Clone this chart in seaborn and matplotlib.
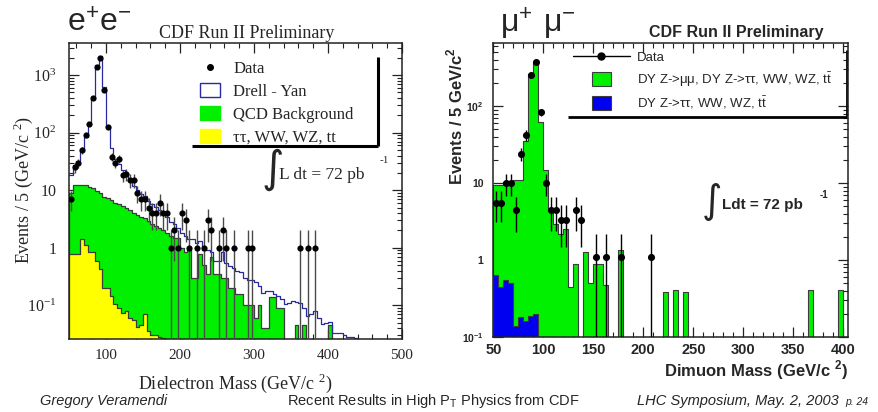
import numpy as np
import pandas as pd
import matplotlib
matplotlib.use("Agg")
import matplotlib.pyplot as plt
import seaborn as sns
from matplotlib.lines import Line2D
from matplotlib.patches import Patch, Rectangle
from matplotlib.legend_handler import HandlerPatch
from matplotlib.ticker import MultipleLocator, LogLocator, NullFormatter

# ---------------- e+e- panel : 5 GeV bins from 50 to 450 ----------------
ee_edges = np.arange(50, 455, 5)

# total prediction outline ("Drell - Yan")
ee_drell_yan = [
    18, 27, 32, 50, 85, 140, 400, 1500, 2100, 620,
    127, 53, 35, 28, 22, 18, 15, 12, 10, 8.5,
    7.8, 6.5, 5.8, 5.2, 4.5, 4.0, 3.4, 2.8, 2.6, 2.2,
    1.8, 1.6, 1.4, 1.4, 1.2, 1.3, 0.9, 0.9, 0.85, 0.6,
    0.6, 0.85, 0.55, 0.49, 0.45, 0.4, 0.38, 0.3, 0.27, 0.27,
    0.25, 0.22, 0.165, 0.18, 0.18, 0.16, 0.145, 0.13, 0.106, 0.11,
    0.12, 0.115, 0.11, 0.09, 0.066, 0.07, 0.08, 0.06, 0.048, 0.05,
    0.052, 0.033, 0.033, 0.033, 0.03, 0.028, 0.028, 0.027, 0, 0,
]
# QCD background (stacked on top of the electroweak part)
ee_qcd = [
    8, 11.5, 11.5, 11, 11, 10.5, 10, 9, 8.5, 7.5,
    7, 6.5, 6, 5.6, 5.2, 4.8, 4.4, 4.0, 3.7, 3.4,
    3.2, 2.9, 2.6, 2.4, 2.2, 2.0, 1.8, 1.6, 1.5, 1.5,
    1.0, 0.85, 0.9, 0.3, 0.3, 0.78, 0.5, 0.35, 0.7, 0.35,
    0.35, 0.3, 0.3, 0.2, 0.2, 0.16, 0.16, 0.1, 0.1, 0.1,
    0.06, 0.1, 0.04, 0.04, 0.14, 0.14, 0.09, 0.09, 0, 0,
    0, 0.045, 0, 0.045, 0, 0, 0, 0, 0, 0,
    0.045, 0, 0, 0, 0, 0, 0, 0, 0, 0,
]
# tau tau, WW, WZ, ttbar
ee_ewk = [
    0.78, 0.78, 0.78, 1.43, 1.1, 0.83, 0.83, 0.6, 0.43, 0.2,
    0.2, 0.146, 0.106, 0.09, 0.075, 0.08, 0.06, 0.055, 0.042, 0.045,
    0.07, 0.036, 0.03, 0.03, 0.028, 0.027, 0, 0, 0, 0,
] + [0] * 50

ee_data_mass = [
    52.5, 57.5, 62.5, 67.5, 72.5, 77.5, 82.5, 87.5, 92.5, 97.5,
    102.5, 107.5, 112.5, 117.5, 122.5, 127.5, 132.5, 137.5, 142.5, 147.5,
    152.5, 157.5, 162.5, 167.5, 172.5, 177.5, 182.5, 187.5, 192.5, 197.5,
    202.5, 207.5, 212.5, 222.5, 232.5, 237.5, 242.5, 252.5, 257.5, 262.5,
    272.5, 292.5, 297.5, 362.5, 372.5, 382.5,
]
ee_data_events = [
    7, 25, 30, 50, 90, 140, 400, 1400, 1950, 560,
    125, 38, 30, 35, 18, 19, 15, 15, 9, 7,
    7, 5, 4, 4, 6, 4, 4, 1, 2, 1,
    4, 3, 1, 1, 1, 3, 2, 1, 2, 1,
    1, 1, 1, 1, 1, 1,
]
ee_yticks = [0.1, 1, 10, 100, 1000]
ee_ytick_labels = [r"$\mathdefault{10^{-1}}$", "1", "10",
                   r"$\mathdefault{10^{2}}$", r"$\mathdefault{10^{3}}$"]
ee_xticks = [100, 200, 300, 400, 500]

# ---------------- mu+mu- panel : 5 GeV bins from 50 to 400 ----------------
mm_edges = np.arange(50, 405, 5)
mm_total = [
    9.5, 9.5, 10.3, 10.3, 11, 11, 35, 263, 372, 62,
    14.8, 4.4, 2.96, 2.2, 2.55, 0.45, 0.9, 0, 1.27, 0.5,
    0.9, 0.9, 0.47, 0, 0, 1.33, 0, 0, 0, 0,
    0, 0, 0, 0, 0.39, 0, 0.41, 0, 0.39, 0,
    0, 0, 0, 0, 0, 0, 0, 0, 0, 0,
    0, 0, 0, 0, 0, 0, 0, 0, 0, 0,
    0, 0, 0, 0.41, 0, 0, 0, 0, 0, 0.41,
]
mm_tautau = [0.64, 0.45, 0.55, 0.5, 0.14, 0.18, 0.16, 0.19, 0.2] + [0] * 61

mm_data_mass = [52.5, 57.5, 62.5, 67.5, 72.5, 77.5, 82.5, 87.5, 92.5, 97.5,
                102.5, 107.5, 112.5, 117.5, 122.5, 132.5, 137.5,
                152.5, 162.5, 177.5, 207.5]
mm_data_events = [5.5, 5.5, 10, 10, 4.4, 24, 42, 256, 370, 83,
                  10, 4.5, 4.5, 3.3, 3.3, 4.5, 3.3,
                  1.1, 1.1, 1.1, 1.1]
mm_yticks = [0.1, 1, 10, 100]
mm_ytick_labels = [r"$\mathdefault{10^{-1}}$", "1", "10", r"$\mathdefault{10^{2}}$"]

GREEN = "#00f000"
YELLOW = "#ffff00"
BLUE = "#0000f0"
DY_LINE = "#2a2aa0"
EDGE = "#3c3c3c"
SERIF = "Liberation Serif"
SANS = "Liberation Sans"

sns.set_style("ticks")
plt.rcParams["font.family"] = [SANS, "DejaVu Sans"]
plt.rcParams["axes.linewidth"] = 1.1
plt.rcParams["axes.edgecolor"] = "#222222"

W, H = 879, 412


def fxy(x, y):
    return x / W, 1 - y / H


def draw_hist(ax, edges, values, fill, color, **kws):
    df = pd.DataFrame({"mass": edges[:-1] + 2.5, "events": np.asarray(values, float)})
    sns.histplot(data=df, x="mass", weights="events", bins=list(edges), element="step",
                 fill=fill, color=color, ax=ax, **kws)


def small_box(legend, orig_handle, xdescent, ydescent, width, height, fontsize):
    return Rectangle((width * 0.325 - xdescent, -ydescent), width * 0.35, height)


fig = plt.figure(figsize=(W / 100, H / 100), dpi=100)
fig.patch.set_facecolor("white")
ax_ee = fig.add_axes([69 / W, 1 - 339 / H, 333 / W, 296 / H])
ax_mm = fig.add_axes([493.3 / W, 1 - 337 / H, 354.7 / W, 294 / H])

# ---------------- left panel ----------------
ee_stack = np.array(ee_qcd) + np.array(ee_ewk)
draw_hist(ax_ee, ee_edges, ee_stack, True, GREEN, alpha=1, edgecolor=EDGE, linewidth=0.9)
draw_hist(ax_ee, ee_edges, ee_ewk, True, YELLOW, alpha=1, edgecolor=EDGE, linewidth=0.9)
draw_hist(ax_ee, ee_edges, ee_drell_yan, False, DY_LINE, linewidth=0.9)

ee_err = np.sqrt(ee_data_events)
ax_ee.errorbar(ee_data_mass, ee_data_events, yerr=ee_err, xerr=2.5, fmt="none",
               ecolor="#4a4a4a", elinewidth=1.0, zorder=4)
sns.scatterplot(x=ee_data_mass, y=ee_data_events, ax=ax_ee, color="black",
                s=20, linewidth=0, zorder=5)

ax_ee.set_yscale("log")
ax_ee.set_xlim(50, 500)
ax_ee.set_ylim(0.026, 3600)
ax_ee.set_yticks(ee_yticks)
ax_ee.set_yticklabels(ee_ytick_labels, family=SERIF, fontsize=11.5)
ax_ee.yaxis.set_minor_locator(LogLocator(subs=np.arange(2, 10)))
ax_ee.yaxis.set_minor_formatter(NullFormatter())
ax_ee.set_xticks(ee_xticks)
ax_ee.set_xticklabels([str(t) for t in ee_xticks], family=SERIF, fontsize=11)
ax_ee.xaxis.set_minor_locator(MultipleLocator(20))
ax_ee.tick_params(which="both", direction="in", top=True, right=True, color="#222222")
ax_ee.tick_params(which="major", length=7, width=0.9)
ax_ee.tick_params(which="minor", length=3.5, width=0.8)
ax_ee.tick_params(axis="y", which="major", pad=9)
ax_ee.tick_params(axis="x", which="major", pad=7)

ax_ee.set_xlabel(r"Dielectron Mass (GeV/c $^{\mathdefault{2}}$)", family=SERIF,
                 fontsize=13, va="center")
ax_ee.xaxis.set_label_coords(0.5, -0.149)
ax_ee.set_ylabel(r"Events / 5 (GeV/c $^{\mathdefault{2}}$)", family=SERIF,
                 fontsize=13, va="center")
ax_ee.yaxis.set_label_coords(-0.138, 0.503)

ee_handles = [
    Line2D([], [], marker="o", ls="none", color="black", ms=4),
    Patch(facecolor="white", edgecolor=DY_LINE, linewidth=1.0),
    Patch(facecolor=GREEN, edgecolor=GREEN),
    Patch(facecolor=YELLOW, edgecolor=YELLOW),
]
ee_labels = ["Data", "Drell - Yan", "QCD Background", "ττ, WW, WZ, tt"]
ax_ee.legend(ee_handles, ee_labels, loc="upper left", bbox_to_anchor=(0.393, 0.942),
             frameon=False, borderpad=0, borderaxespad=0, handlelength=1.2,
             handleheight=0.95, handletextpad=0.8, labelspacing=0.36,
             prop={"family": SERIF, "size": 12})
ax_ee.add_line(Line2D([0.369, 0.928], [0.652, 0.652], transform=ax_ee.transAxes,
                      color="black", lw=2.2, solid_capstyle="butt"))
ax_ee.add_line(Line2D([0.928, 0.928], [0.652, 0.953], transform=ax_ee.transAxes,
                      color="black", lw=2.2, solid_capstyle="butt"))

# ---------------- right panel ----------------
draw_hist(ax_mm, mm_edges, mm_total, True, GREEN, alpha=1, edgecolor=EDGE, linewidth=0.8)
draw_hist(ax_mm, mm_edges, mm_tautau, True, BLUE, alpha=1, edgecolor=EDGE, linewidth=0.8)

mm_err = np.sqrt(mm_data_events)
ax_mm.errorbar(mm_data_mass, mm_data_events, yerr=mm_err, xerr=2.5, fmt="none",
               ecolor="black", elinewidth=1.0, zorder=4)
sns.scatterplot(x=mm_data_mass, y=mm_data_events, ax=ax_mm, color="black",
                s=26, linewidth=0, zorder=5)

ax_mm.set_yscale("log")
ax_mm.set_xlim(50, 404.7)
ax_mm.set_ylim(0.1, 660)
ax_mm.set_yticks(mm_yticks)
ax_mm.set_yticklabels(mm_ytick_labels, family=SANS, fontsize=7.5, fontweight="bold")
ax_mm.yaxis.set_minor_locator(LogLocator(subs=np.arange(2, 10)))
ax_mm.yaxis.set_minor_formatter(NullFormatter())
ax_mm.xaxis.set_major_locator(MultipleLocator(50))
ax_mm.xaxis.set_minor_locator(MultipleLocator(10))
ax_mm.tick_params(axis="x", labelsize=10.5)
ax_mm.tick_params(which="both", direction="in", top=True, right=True, color="#222222")
ax_mm.tick_params(which="major", length=7, width=0.9)
ax_mm.tick_params(which="minor", length=3.5, width=0.8)
ax_mm.tick_params(axis="y", which="major", pad=7)
ax_mm.tick_params(axis="x", which="major", pad=4)
for lab in ax_mm.get_xticklabels():
    lab.set_fontweight("bold")

ax_mm.set_xlabel(r"Dimuon Mass (GeV/c $^{\mathdefault{2}}$)", fontsize=12,
                 fontweight="bold", ha="right", va="center")
ax_mm.xaxis.set_label_coords(1.0, -0.112)
ax_mm.set_ylabel(r"Events / 5 GeV/c$^{\mathdefault{2}}$", fontsize=12,
                 fontweight="bold", ha="right", va="center")
ax_mm.yaxis.set_label_coords(-0.108, 0.986)

mm_handles = [
    Line2D([], [], marker="o", ls="-", color="black", ms=5, lw=1.0),
    Patch(facecolor=GREEN, edgecolor=EDGE, linewidth=0.8),
    Patch(facecolor=BLUE, edgecolor=EDGE, linewidth=0.8),
]
mm_labels = [
    "Data",
    r"DY Z->μμ, DY Z->ττ, WW, WZ, $\mathdefault{t\bar{t}}$",
    r"DY Z->ττ, WW, WZ, $\mathdefault{t\bar{t}}$",
]
ax_mm.legend(mm_handles, mm_labels, loc="upper left", bbox_to_anchor=(0.225, 0.976),
             frameon=False, borderpad=0, borderaxespad=0, handlelength=4.3,
             handleheight=1.2, handletextpad=0.55, labelspacing=0.45,
             prop={"family": SANS, "size": 9.5},
             handler_map={Patch: HandlerPatch(patch_func=small_box)})
ax_mm.add_line(Line2D([0.212, 0.997], [0.748, 0.748], transform=ax_mm.transAxes,
                      color="black", lw=2.0, solid_capstyle="butt"))
ax_mm.add_line(Line2D([0.997, 0.997], [0.748, 0.976], transform=ax_mm.transAxes,
                      color="black", lw=2.0, solid_capstyle="butt"))

# ---------------- headings and annotations ----------------
fig.text(*fxy(67, 24), r"$\mathdefault{e^{+}e^{-}}$", family=SANS, fontsize=23,
         ha="left", va="center")
fig.text(*fxy(247, 33), "CDF Run II Preliminary", family=SERIF, fontsize=13,
         ha="center", va="center")
fig.text(*fxy(272, 170), r"$\int$", fontsize=22, ha="center", va="center")
fig.text(*fxy(279, 175), "L dt = 72 pb", family=SERIF, fontsize=12.5,
         ha="left", va="center")
fig.text(*fxy(380, 160), "-1", family=SERIF, fontsize=8, ha="left", va="center")

fig.text(*fxy(500, 24), r"$\mathdefault{μ^{+}\ μ^{-}}$", family=SANS, fontsize=23,
         ha="left", va="center")
fig.text(*fxy(736, 32), "CDF Run II Preliminary", family=SANS, fontsize=11.5,
         fontweight="bold", ha="center", va="center")
fig.text(*fxy(711, 202), r"$\int$", fontsize=20, ha="center", va="center")
fig.text(*fxy(722, 205), "Ldt = 72 pb", family=SANS, fontsize=11,
         fontweight="bold", ha="left", va="center")
fig.text(*fxy(820, 195), "-1", family=SANS, fontsize=7, fontweight="bold",
         ha="left", va="center")

fig.text(*fxy(40, 401), "Gregory Veramendi", family=SANS, style="italic",
         fontsize=10.5, ha="left", va="center")
fig.text(*fxy(287, 401), r"Recent Results in High $\mathdefault{P_{T}}$ Physics from CDF",
         family=SANS, fontsize=10.5, ha="left", va="center")
fig.text(*fxy(637, 401), "LHC Symposium, May. 2, 2003", family=SANS, style="italic",
         fontsize=10.5, ha="left", va="center")
fig.text(*fxy(845, 402), "p. 24", family=SANS, style="italic", fontsize=7.5,
         ha="left", va="center")

fig.savefig("out.png", dpi=100, facecolor="white")
